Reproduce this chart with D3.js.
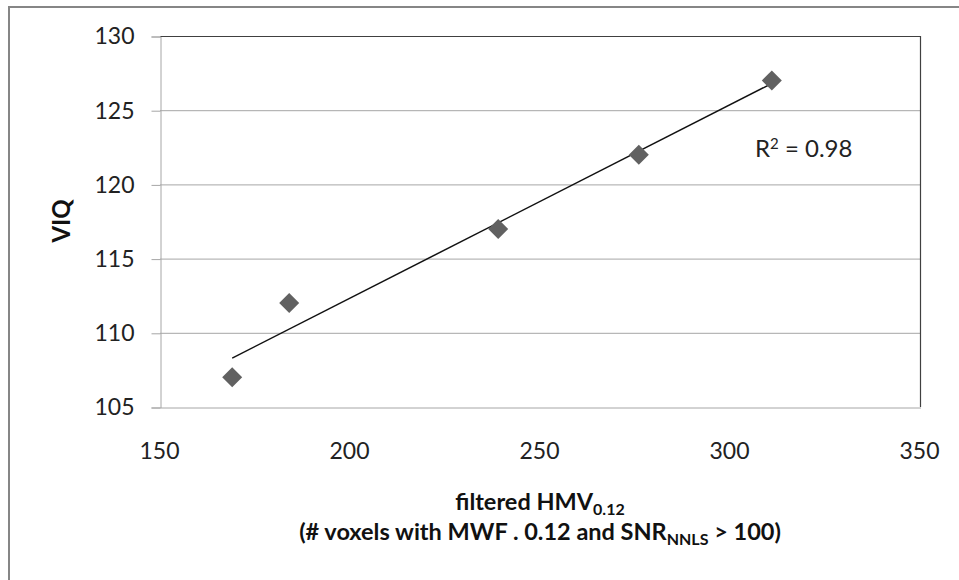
<!DOCTYPE html>
<html><head><meta charset="utf-8">
<script src="https://cdn.jsdelivr.net/npm/d3@7"></script>
<style>body{margin:0;background:#fff;} svg{display:block;} text{font-family:Lato,"Open Sans",sans-serif;}</style>
</head><body>
<svg id="c" width="959" height="580"></svg>
<script>
const xValues = [169, 184, 239, 276, 311];
const yValues = [107, 112, 117, 122, 127];
const xTicks = [150, 200, 250, 300, 350];
const yTicks = [105, 110, 115, 120, 125, 130];
const r2Parts = ["R", "2", " = 0.98"];

const svg = d3.select("#c");
const L = 160, R = 920, T = 36, B = 407;
const x = d3.scaleLinear().domain([150, 350]).range([L, R]);
const y = d3.scaleLinear().domain([105, 130]).range([B, T]);
const FONT = "Lato,'Open Sans',sans-serif";

// outer frame
svg.append("path").attr("d", `M9,580 V7 H959`).attr("fill", "none").attr("stroke", "#868686").attr("stroke-width", 2);

// gridlines
svg.append("g").selectAll("line").data(yTicks.slice(1)).join("line")
  .attr("x1", L).attr("x2", R).attr("y1", d => y(d) + 0.5).attr("y2", d => y(d) + 0.5)
  .attr("stroke", "#a6a6a6").attr("stroke-width", 1);

// plot border top/right dark
svg.append("path").attr("d", `M${L},${T + 0.5} H${R + 0.5} V${B}`).attr("fill", "none").attr("stroke", "#404040").attr("stroke-width", 1.2);

// y axis
const ya = svg.append("g").attr("transform", `translate(${L + 0.5},0.5)`)
  .call(d3.axisLeft(y).tickValues(yTicks).tickSize(9).tickPadding(17).tickFormat(d3.format("d")));
ya.select(".domain").attr("stroke", "#a6a6a6");
ya.selectAll(".tick line").attr("stroke", "#a6a6a6");
ya.selectAll("text").attr("font-size", 23).attr("fill", "#222").attr("font-family", FONT);

// x axis
const xa = svg.append("g").attr("transform", `translate(-1,${B + 0.5})`)
  .call(d3.axisBottom(x).tickValues(xTicks).tickSize(0).tickPadding(35).tickFormat(d3.format("d")));
xa.select(".domain").attr("stroke", "#a6a6a6").attr("transform", "translate(1.5,0)");
xa.selectAll("text").attr("font-size", 23).attr("fill", "#222").attr("font-family", FONT);

// trendline (least squares)
const mx = d3.mean(xValues), my = d3.mean(yValues);
const sxy = d3.sum(xValues.map((v, i) => (v - mx) * (yValues[i] - my)));
const sxx = d3.sum(xValues.map(v => (v - mx) ** 2));
const slope = sxy / sxx, icpt = my - slope * mx;
const x0 = d3.min(xValues), x1 = d3.max(xValues);
svg.append("line")
  .attr("x1", x(x0)).attr("y1", y(icpt + slope * x0))
  .attr("x2", x(x1)).attr("y2", y(icpt + slope * x1))
  .attr("stroke", "#111").attr("stroke-width", 1.5);

// points
const sym = d3.symbol().type(d3.symbolSquare).size(200);
svg.append("g").selectAll("path").data(xValues.map((v, i) => [v, yValues[i]])).join("path")
  .attr("d", sym)
  .attr("transform", d => `translate(${x(d[0])},${y(d[1])}) rotate(45)`)
  .attr("fill", "#616161");

// R2 label
const r2 = svg.append("text").attr("x", 755).attr("y", 157).attr("font-size", 24).attr("fill", "#222");
r2.append("tspan").text(r2Parts[0]);
r2.append("tspan").attr("font-size", 15).attr("dy", -8).text(r2Parts[1]);
r2.append("tspan").attr("dy", 8).text(r2Parts[2]);

// y title
svg.append("text").attr("transform", `translate(70,221) rotate(-90)`).attr("text-anchor", "middle")
  .attr("font-size", 24).attr("font-weight", "bold").attr("fill", "#111").text("VIQ");

// x title
const t1 = svg.append("text").attr("x", 540).attr("y", 510).attr("text-anchor", "middle")
  .attr("font-size", 23.5).attr("font-weight", "bold").attr("fill", "#111");
t1.append("tspan").text("filtered HMV");
t1.append("tspan").attr("font-size", 16).attr("dy", 5).text("0.12");

const t2 = svg.append("text").attr("x", 540).attr("y", 540).attr("text-anchor", "middle")
  .attr("font-size", 23.5).attr("font-weight", "bold").attr("fill", "#111");
t2.append("tspan").text("(# voxels with MWF . 0.12 and SNR");
t2.append("tspan").attr("font-size", 16).attr("dy", 5).text("NNLS");
t2.append("tspan").attr("dy", -5).text(" > 100)");
</script>
</body></html>
